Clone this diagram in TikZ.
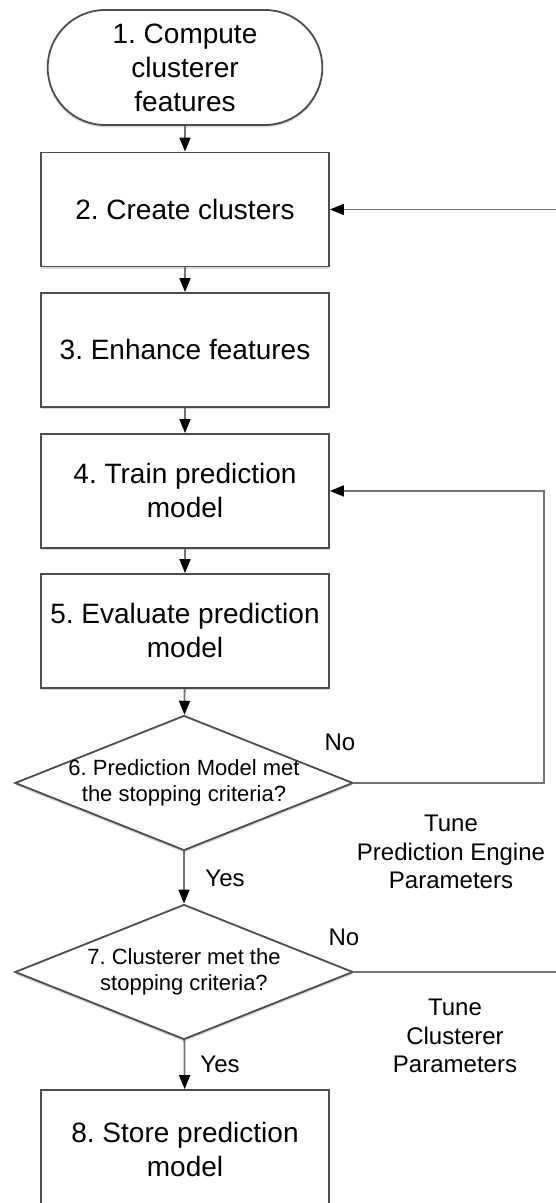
\documentclass[tikz,border=0pt]{standalone}
\usepackage{fontspec}
\setmainfont{Liberation Sans}
\usetikzlibrary{shapes.geometric,shapes.misc,arrows.meta,shadows}
\frenchspacing

\tikzset{
  boxshadow/.style={drop shadow={shadow xshift=0pt, shadow yshift=-1.2pt, opacity=0.3}},
  box/.style={draw=black!70, line width=0.9pt, fill=white, boxshadow,
    minimum width=144pt, minimum height=57pt, align=center,
    font=\fontsize{14}{17}\selectfont},
  startbox/.style={box, rounded rectangle, minimum height=57.5pt},
  decision/.style={diamond, draw=black!70, line width=0.9pt, fill=white, boxshadow,
    inner sep=0pt, minimum width=169pt, minimum height=67.5pt},
  decisiontext/.style={align=center, font=\fontsize{11}{13}\selectfont},
  lbl/.style={align=center, font=\fontsize{12}{14.4}\selectfont},
  line/.style={draw=black!55, line width=0.9pt,
    -{Triangle[length=7pt,width=5.5pt,color=black]}},
}

\begin{document}
\begin{tikzpicture}[x=0.5pt, y=0.5pt]
  \useasboundingbox (0,0) rectangle (556,1203);
  \clip (0,0) rectangle (556,1203);

  % steps
  \node[startbox] (compute) at (185,1135.5) {1. Compute\\clusterer\\features};
  \node[box] (create) at (185,993.5) {2. Create clusters};
  \node[box] (enhance) at (185,853) {3. Enhance features};
  \node[box] (train) at (185,712) {4. Train prediction\\model};
  \node[box] (evaluate) at (185,572) {5. Evaluate prediction\\model};
  \node[decision, label={[decisiontext]center:{6. Prediction Model met\\the stopping criteria?}}] (predok) at (184,420) {};
  \node[decision, label={[decisiontext]center:{7. Clusterer met the\\stopping criteria?}}] (clustok) at (184,231) {};
  \node[box, minimum height=59pt] (store) at (185,54) {8. Store prediction\\model};

  % main flow
  \draw[line] (compute) -- (create);
  \draw[line] (create) -- (enhance);
  \draw[line] (enhance) -- (train);
  \draw[line] (train) -- (evaluate);
  \draw[line] (evaluate) -- (predok);
  \draw[line] (predok) -- (clustok);
  \draw[line] (clustok) -- (store);

  % feedback loops
  \coordinate (loopa) at (544,420);
  \coordinate (loopb) at (580,231);
  \draw[line] (predok.east) -- (loopa) |- (train.east);
  \draw[line] (clustok.east) -- (loopb) |- (create.east);

  % labels
  \node[lbl] (nopred) at (340,461) {No};
  \node[lbl] (yespred) at (225,325) {Yes};
  \node[lbl] (tunepred) at (451,351) {Tune\\Prediction Engine\\Parameters};
  \node[lbl] (noclust) at (344,266) {No};
  \node[lbl] (yesclust) at (220,139) {Yes};
  \node[lbl] (tuneclust) at (455,167) {Tune\\Clusterer\\Parameters};
\end{tikzpicture}
\end{document}
